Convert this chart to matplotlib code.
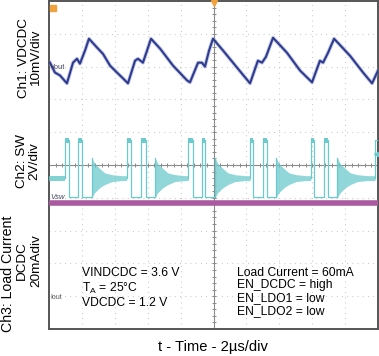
import numpy as np
import matplotlib.pyplot as plt

plt.rcParams['font.family'] = ['Liberation Sans', 'DejaVu Sans']

# scope screen: 10 x 10 div, time 2 us/div
t_span = 20.0

# Ch1: VDCDC ripple in mV (10 mV/div), marker offset in div
ch1_offset = 2.97
vout_t = [0.06, 0.36, 0.67, 1.09, 1.46, 1.70, 1.88, 2.19, 2.43, 2.92, 3.28, 3.71,
          4.13, 4.50, 4.80, 5.23, 5.41, 5.71, 5.96, 6.20, 6.75, 7.54, 8.39, 8.57,
          9.06, 9.30, 9.48, 9.73, 9.97, 10.58, 11.43, 12.22, 12.70, 12.95, 13.19,
          13.62, 14.47, 15.26, 15.99, 16.47, 16.66, 16.96, 17.33, 18.30, 19.09,
          19.64, 20.0]
vout_mv = [1.5, -1.5, -2.4, -4.8, 1.5, 2.7, 1.2, 5.2, 8.8, 6.1, 4.2, 0.6,
           -1.5, -3.3, -4.8, 2.1, 2.7, 1.5, 5.2, 8.8, 5.8, 0.6, -3.9, -4.5,
           1.5, 1.5, 0.3, 5.2, 8.8, 5.2, 0.0, -4.8, 2.1, 1.5, 3.3,
           9.1, 4.5, -0.9, -4.5, 2.1, 1.5, 4.5, 8.8, 3.6, -1.5,
           -4.8, -0.9]

# Ch2: SW node in V (2 V/div)
ch2_offset = -0.99
sw_high = 3.5
sw_idle_hi = 1.33
sw_idle_lo = 1.03
pulse1_on = [0.97, 4.72, 8.47, 12.22, 15.91]
pulse1_off = [1.22, 4.97, 8.74, 12.42, 16.11]
pulse2_on = [1.78, 5.57, 9.28, 12.99, 16.72]
pulse2_off = [2.02, 5.88, 9.48, 13.23, 16.96]
ring_start = [2.60, 6.44, 10.09, 13.80, 17.53]
next_on = [4.72, 8.47, 12.22, 15.91, 19.82]
ring_dt = [0.0, 0.18, 0.49, 0.79, 1.22, 1.82]
ring_hi = [2.42, 2.06, 1.76, 1.50, 1.39, 1.33]
ring_lo = [0.0, 0.30, 0.60, 0.79, 0.97, 1.03]

# Ch3: load current in mA (20 mA/div)
ch3_offset = -4.03
iout_ma = 57.5

navy = '#2e3b8f'
cyan = '#6ccacd'
magenta = '#ab5a9f'

fig = plt.figure(figsize=(3.79, 3.56), dpi=100)
ax = fig.add_axes([49 / 379, 27 / 356, 329 / 379, 328 / 356])
ax.set_xlim(0, t_span)
ax.set_ylim(-5, 5)


def sw(v):
    return ch2_offset + np.asarray(v) / 2.0


# grid
for i in range(1, 10):
    if i != 5:
        ax.axvline(i * 2, color='#c4c4c4', lw=0.8, ls=(0, (0.8, 3.9)), zorder=1)
        ax.axhline(i - 5, color='#c4c4c4', lw=0.8, ls=(0, (0.8, 3.9)), zorder=1)
ax.axhline(0, color='#8a8a8a', lw=0.8, zorder=1)
ax.axvline(10, color='#8a8a8a', lw=0.8, zorder=1)
ax.plot(np.arange(0.4, 20, 0.4), np.zeros(49), ls='', marker='|', ms=3.5,
        mew=0.7, color='#8a8a8a', zorder=1)
ax.plot(np.full(49, 10.0), np.arange(-4.8, 5, 0.2), ls='', marker='_', ms=3.5,
        mew=0.7, color='#8a8a8a', zorder=1)

# Ch3 load current
y3 = ch3_offset + iout_ma / 20.0
ax.plot([0, t_span], [y3, y3], color=magenta, lw=4.0, solid_capstyle='butt', zorder=3)

# Ch2 switch node
ax.fill_between([0, pulse1_on[0]], sw(sw_idle_lo), sw(sw_idle_hi), color=cyan,
                alpha=0.85, lw=0, zorder=4)
for k in range(len(pulse1_on)):
    ts = [pulse1_on[k], pulse1_on[k], pulse1_off[k], pulse1_off[k],
          pulse2_on[k], pulse2_on[k], pulse2_off[k], pulse2_off[k], ring_start[k]]
    vs = [1.2, sw_high, sw_high, 0, 0, sw_high, sw_high, 0, 0]
    ax.plot(ts, sw(vs), color=cyan, lw=0.9, zorder=5)
    for a, b in ((pulse1_on[k], pulse1_off[k]), (pulse2_on[k], pulse2_off[k])):
        ax.fill_between([a, b], sw(sw_high - 0.15), sw(sw_high + 0.15), color=cyan, lw=0, zorder=5)
    rt = [ring_start[k] + d for d in ring_dt] + [next_on[k]]
    ax.fill_between(rt, sw(ring_lo + [sw_idle_lo]), sw(ring_hi + [sw_idle_hi]),
                    color=cyan, alpha=0.75, lw=0, zorder=4)
    ax.plot([ring_start[k], ring_start[k]], sw([0, ring_hi[0]]), color=cyan, lw=0.9, zorder=5)
ax.plot([next_on[-1], next_on[-1], t_span], sw([1.2, sw_high, sw_high]), color=cyan, lw=0.9, zorder=5)

# Ch1 output voltage ripple
y1 = ch1_offset + np.array(vout_mv) / 10.0
ax.plot(vout_t, y1, color='#8f9bd0', lw=2.8, alpha=0.5, zorder=6)
ax.plot(vout_t, y1, color=navy, lw=1.5, zorder=7)

# channel markers
ax.text(0.08, ch1_offset, 'Vout', fontsize=5.5, color='#444466', va='center', zorder=8)
ax.text(0.08, ch2_offset, 'Vsw', fontsize=5.5, style='italic', color='#444466', va='center', zorder=8)
ax.text(0.08, ch3_offset, 'Iout', fontsize=5, color='#555555', va='center', zorder=8)
ax.plot(0.22, 4.78, marker='s', ms=4, color='#f0a23c', zorder=8)
ax.plot(10, 4.95, marker='v', ms=4, color='#f0a23c', clip_on=False, zorder=8)
ax.plot(19.85, 0.35, marker='<', ms=3, color=cyan, clip_on=False, zorder=8)

# frame
ax.set_xticks(np.arange(0, 21, 2))
ax.set_yticks(np.arange(-5, 6, 1))
ax.set_xticklabels([])
ax.set_yticklabels([])
ax.tick_params(direction='in', length=0, top=True, right=True)
for s in ax.spines.values():
    s.set_color('#555555')
    s.set_linewidth(1.4)


def px(x, y):
    return x / 379, 1 - y / 356


fig.text(*px(30, 58), 'Ch1: VDCDC\n10mV/div', rotation=90, ha='center', va='center',
         fontsize=9.7, linespacing=1.05)
fig.text(*px(28, 161), 'Ch2: SW\n2V/div', rotation=90, ha='center', va='center',
         fontsize=9.7, linespacing=1.05)
fig.text(*px(8, 274), 'Ch3: Load Current', rotation=90, ha='center', va='center', fontsize=10.2)
fig.text(*px(22, 261), 'DCDC', rotation=90, ha='center', va='center', fontsize=9.7)
fig.text(*px(36, 261), '20mAdiv', rotation=90, ha='center', va='center', fontsize=9.7)

left_notes = ['VINDCDC = 3.6 V', r'T$_\mathregular{A}$ = 25°C', 'VDCDC = 1.2 V']
left_y = [273, 288, 303]
for s, yy in zip(left_notes, left_y):
    fig.text(*px(82, yy), s, ha='left', va='center', fontsize=8.7)
right_notes = ['Load Current = 60mA', 'EN_DCDC = high', 'EN_LDO1 = low', 'EN_LDO2 = low']
right_y = [273, 285, 298, 311]
for s, yy in zip(right_notes, right_y):
    fig.text(*px(237, yy), s, ha='left', va='center', fontsize=8.7)

fig.text(*px(213, 347), 't - Time - 2\u00b5s/div', ha='center', va='center', fontsize=10.6)

fig.savefig('out.png', dpi=100)
